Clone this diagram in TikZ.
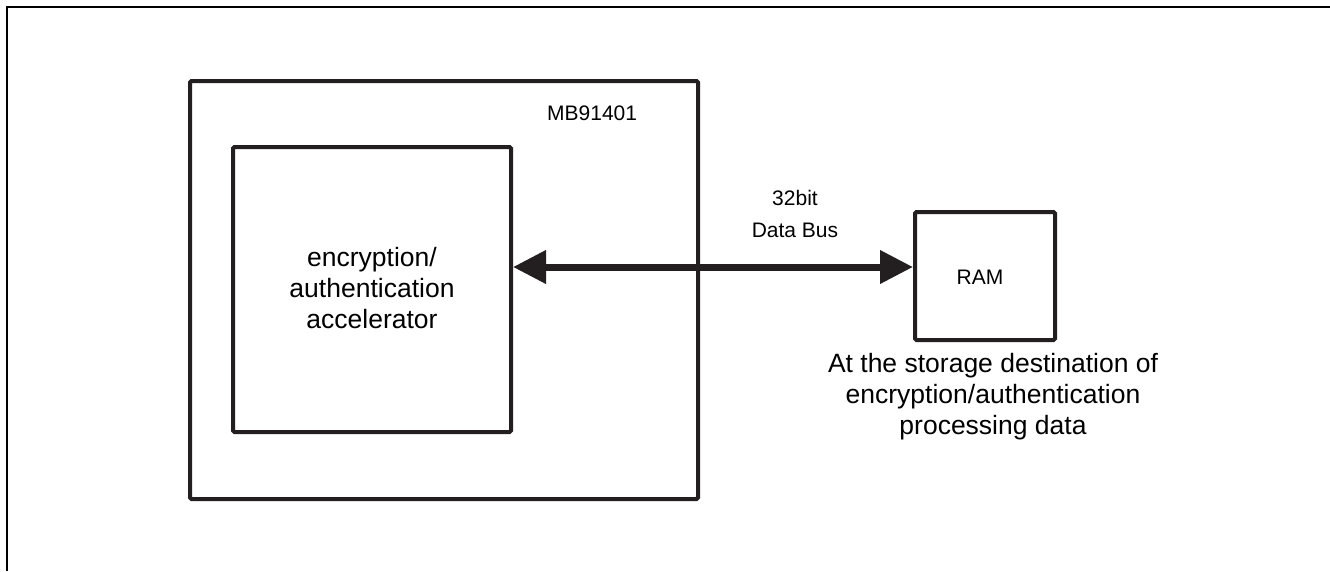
\documentclass[tikz,border=0pt]{standalone}
\usepackage{fontspec}
\setmainfont{Liberation Sans}
\usetikzlibrary{arrows.meta}
\definecolor{ink}{HTML}{231F20}
\begin{document}
\begin{tikzpicture}[x=1pt,y=-1pt,
  blk/.style={draw=ink,line width=4pt,rounded corners=1.5pt,inner sep=0pt},
  lbl/.style={inner sep=0pt,text=black,align=center}]
\useasboundingbox (0,0) rectangle (1330,571);
\draw[black,line width=2pt] (7,571) -- (7,7) -- (1330,7);
\draw[blk] (190,81) rectangle (698,499);
\node[blk,minimum width=278pt,minimum height=285pt] (acc) at (372,289.5) {};
\node[blk,minimum width=140pt,minimum height=128pt] (ram) at (985,276) {};
\node[lbl,font=\fontsize{21}{24}\selectfont,anchor=base west] (mb) at (547,120) {MB91401};
\node[lbl,font=\fontsize{26.5}{31}\selectfont] (acct) at (372,288) {encryption/\\authentication\\accelerator};
\node[lbl,font=\fontsize{21}{24}\selectfont] (ramt) at (980,277.5) {RAM};
\node[lbl,font=\fontsize{21}{32}\selectfont] (bus) at (795,214) {32bit\\Data Bus};
\node[lbl,font=\fontsize{26.5}{31}\selectfont] (st) at (993,397) {At the storage destination of\\encryption/authentication\\processing data};
\draw[ink,line width=7pt,{Triangle[length=33pt,width=32pt]}-{Triangle[length=33pt,width=32pt]}] (acc.east|-0,267) -- (ram.west|-0,267);
\end{tikzpicture}
\end{document}
